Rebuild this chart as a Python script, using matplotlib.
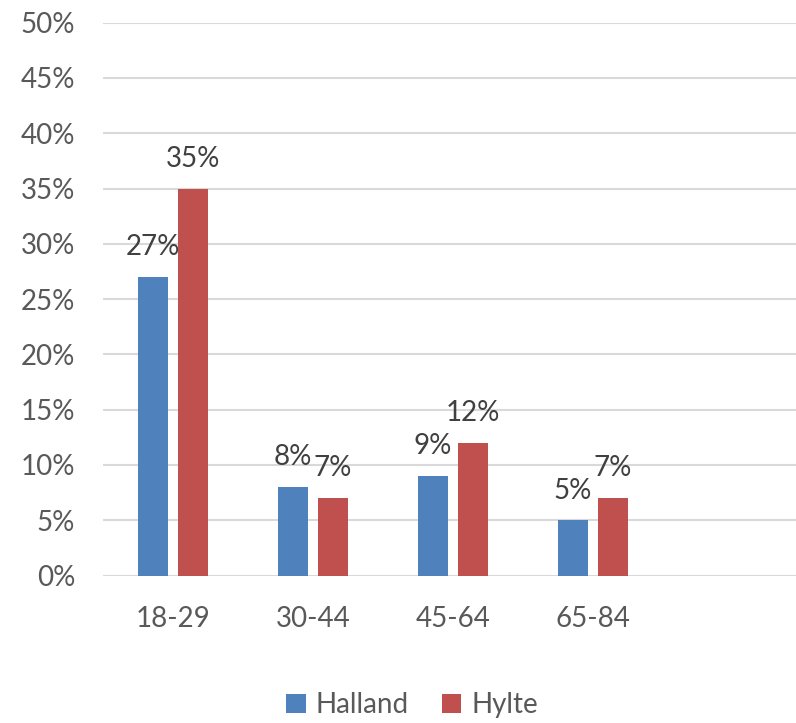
import matplotlib
matplotlib.use("Agg")
import matplotlib.pyplot as plt
import numpy as np

categories = ["18-29", "30-44", "45-64", "65-84"]
halland = [27, 8, 9, 5]
hylte = [35, 7, 12, 7]
series_names = ["Halland", "Hylte"]
colors = ["#4F81BD", "#C0504D"]
yticks = [0, 5, 10, 15, 20, 25, 30, 35, 40, 45, 50]

plt.rcParams['font.family'] = ['Lato', 'DejaVu Sans']

fig = plt.figure(figsize=(7.96, 7.23), dpi=100)
ax = fig.add_axes([103/796, 1-575.5/723, 1-103/796, (575.5-22.7)/723])

x = np.arange(len(categories))
w = 0.221
off = 0.143
b1 = ax.bar(x - off, halland, w, color=colors[0], label=series_names[0], zorder=3)
b2 = ax.bar(x + off, hylte, w, color=colors[1], label=series_names[1], zorder=3)

for bars, vals in ((b1, halland), (b2, hylte)):
    for r, v in zip(bars, vals):
        ax.annotate(f"{v}%", (r.get_x() + r.get_width()/2, v), xytext=(0, 12),
                    textcoords="offset points", ha="center", va="bottom",
                    fontsize=20, color="#404040", zorder=4)

ax.set_xlim(-0.5, 4.45)
ax.set_ylim(0, 50)
ax.set_yticks(yticks)
ax.set_yticklabels([f"{t}%" for t in yticks])
ax.set_xticks(x)
ax.set_xticklabels(categories)
ax.tick_params(axis="both", length=0, labelsize=20, labelcolor="#595959")
ax.tick_params(axis="x", pad=22)
ax.tick_params(axis="y", pad=20)
ax.grid(axis="y", color="#D9D9D9", linewidth=1.5, zorder=0)
for s in ax.spines.values():
    s.set_visible(False)

fig.legend(handles=[b1, b2], labels=series_names, loc="center", bbox_to_anchor=(412/796, 1-705/723),
           ncol=2, frameon=False, fontsize=20, labelcolor="#595959", handlelength=0.7,
           handleheight=0.7, handletextpad=0.35, columnspacing=1.2)

fig.savefig("out.png", dpi=100)
